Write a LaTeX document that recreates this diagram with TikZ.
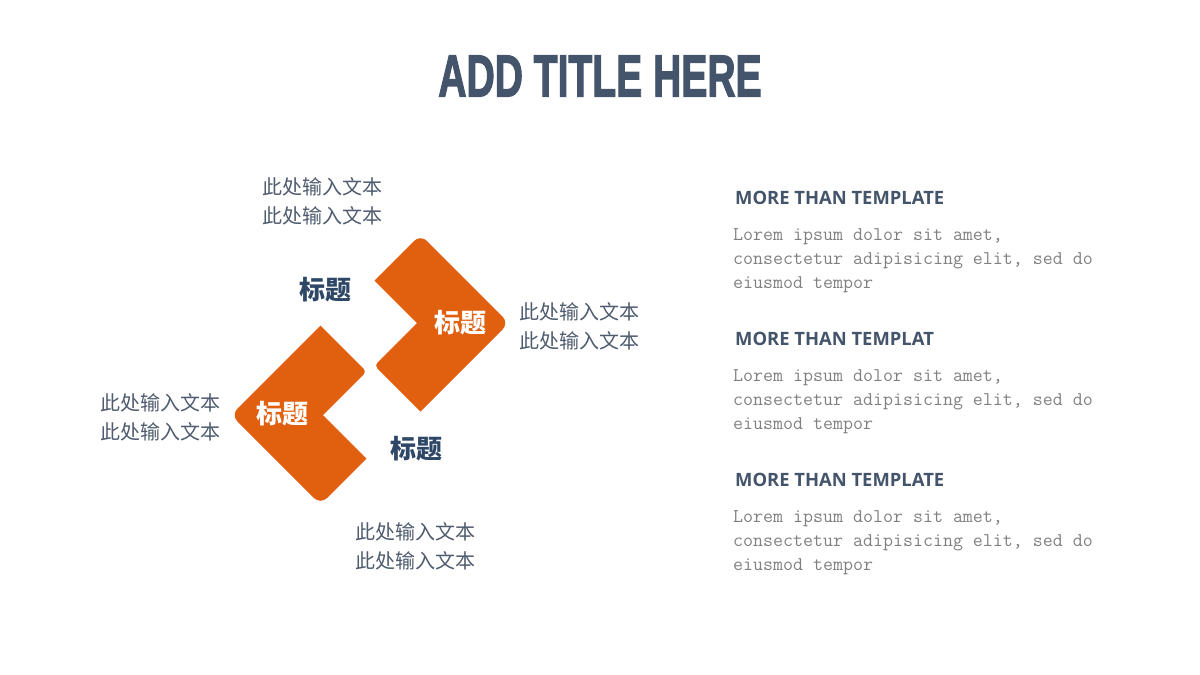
\documentclass[tikz,border=0pt]{standalone}
\usepackage{fontspec}
\newfontfamily\cjk{Noto Sans CJK SC}
\newfontfamily\headfont{Open Sans}
\newfontfamily\titlefont{Liberation Sans}[BoldFeatures={FakeBold=2.5}]
\definecolor{orng}{HTML}{E06010}
\definecolor{navy}{HTML}{44546A}
\definecolor{dnavy}{HTML}{2E4766}
\definecolor{txtgray}{HTML}{4F5B6E}
\definecolor{lgray}{HTML}{808080}
\tikzset{
  chev/.style={fill=orng},
  cjktxt/.style={font=\cjk\fontsize{20}{29}\selectfont, text=txtgray, align=left, inner sep=0pt},
  darkhead/.style={font=\cjk\bfseries\fontsize{26}{26}\selectfont, text=dnavy, inner sep=0pt},
  whitehead/.style={font=\cjk\bfseries\fontsize{26}{26}\selectfont, text=white, inner sep=0pt},
  rhead/.style={font=\headfont\bfseries\fontsize{18.4}{18.4}\selectfont, text=navy, anchor=west, inner sep=0pt},
  lorem/.style={font=\ttfamily\fontsize{19.4}{24}\selectfont, text=lgray, anchor=west, align=left, inner sep=0pt},
}
\begin{document}
\begin{tikzpicture}[x=1pt,y=-1pt]
\useasboundingbox (0,0) rectangle (1200,675);
% upper chevron
\coordinate (uR) at (509,323);
\coordinate (uT) at (420.5,234.5);
\coordinate (uTp) at (374.5,280.5);
\coordinate (uI) at (417,323);
\coordinate (uBp) at (374.5,365.5);
\coordinate (uB) at (420.5,411.5);
\coordinate (uM) at (397.5,257.5);
% lower chevron
\coordinate (lL) at (231,415);
\coordinate (lT) at (320.5,325.5);
\coordinate (lTp) at (366.5,371.5);
\coordinate (lI) at (323,415);
\coordinate (lBp) at (366.5,458.5);
\coordinate (lB) at (320.5,504.5);
\coordinate (lM) at (343.5,481.5);
\fill[chev] (uM) [sharp corners] -- (uTp) -- (uI) [rounded corners=4pt] -- (uBp) [sharp corners] -- (uB) [rounded corners=9pt] -- (uR) -- (uT) -- cycle;
\fill[chev] (lM) [sharp corners] -- (lBp) -- (lI) [rounded corners=4pt] -- (lTp) [sharp corners] -- (lT) [rounded corners=9pt] -- (lL) -- (lB) -- cycle;
% title
\node (title) at (600,76) {\scalebox{0.662}[1]{\titlefont\bfseries\fontsize{59}{59}\selectfont\color{navy}ADD TITLE HERE}};
% chevron labels
\node[whitehead] (w1) at (460,323) {标题};
\node[whitehead] (w2) at (282,414) {标题};
\node[darkhead] (d1) at (325,290) {标题};
\node[darkhead] (d2) at (416,449) {标题};
% Chinese texts
\node[cjktxt] (t1) at (322.5,201.5) {此处输入文本\\此处输入文本};
\node[cjktxt] (t2) at (579.5,326.5) {此处输入文本\\此处输入文本};
\node[cjktxt] (t3) at (160.5,417.5) {此处输入文本\\此处输入文本};
\node[cjktxt] (t4) at (415.5,546.5) {此处输入文本\\此处输入文本};
% right column
\node[rhead] (h1) at (735,197.5) {MORE THAN TEMPLATE};
\node[lorem] (p1) at (733,261) {Lorem ipsum dolor sit amet,\\consectetur adipisicing elit, sed do\\eiusmod tempor};
\node[rhead] (h2) at (735,338.5) {MORE THAN TEMPLAT};
\node[lorem] (p2) at (733,402) {Lorem ipsum dolor sit amet,\\consectetur adipisicing elit, sed do\\eiusmod tempor};
\node[rhead] (h3) at (735,479.5) {MORE THAN TEMPLATE};
\node[lorem] (p3) at (733,543) {Lorem ipsum dolor sit amet,\\consectetur adipisicing elit, sed do\\eiusmod tempor};
\end{tikzpicture}
\end{document}
